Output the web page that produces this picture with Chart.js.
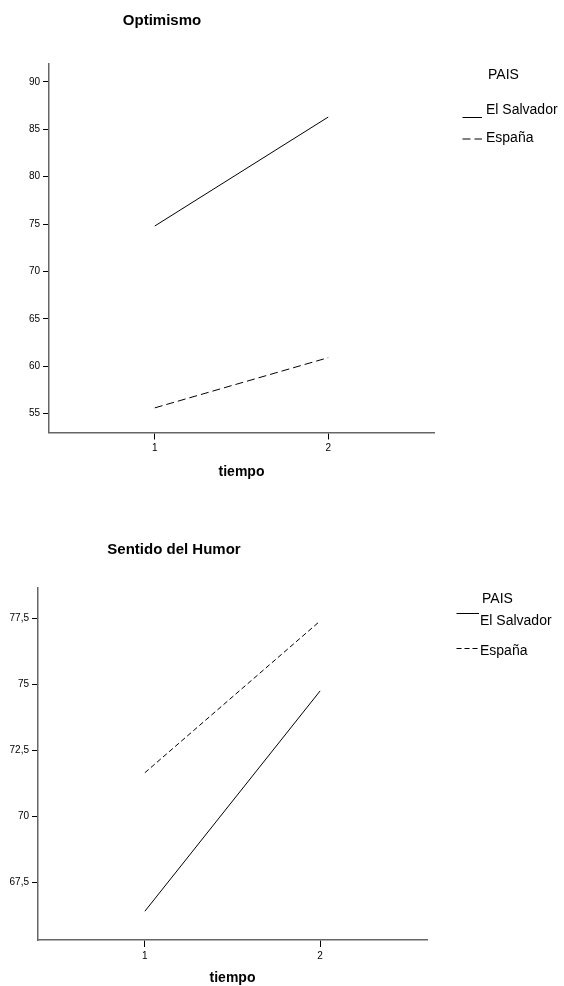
<!DOCTYPE html>
<html>
<head>
<meta charset="utf-8">
<script src="https://cdn.jsdelivr.net/npm/chart.js"></script>
<style>
  body { margin: 0; background: #fff; }
  .chart-box { position: relative; width: 564px; height: 493px; }
</style>
</head>
<body>
<div class="chart-box"><canvas id="chartOptimismo"></canvas></div>
<div class="chart-box"><canvas id="chartHumor"></canvas></div>
<script>
const tiempos = [1, 2];
const paises = ['El Salvador', 'España'];
const optimismoSalvador = [74.8, 86.3];
const optimismoEspana = [55.6, 60.9];
const humorSalvador = [66.4, 74.75];
const humorEspana = [71.65, 77.4];
const ticksOptimismo = [55, 60, 65, 70, 75, 80, 85, 90];
const ticksHumor = [67.5, 70, 72.5, 75, 77.5];

const fuente = "'Liberation Sans', Arial, sans-serif";
Chart.defaults.font.family = fuente;
Chart.defaults.color = '#000';

// titulo + leyenda "PAIS" colocados a mano, como en el grafico original
const textosPlugin = {
  id: 'textos',
  afterDraw(chart, args, opts) {
    const ctx = chart.ctx;
    ctx.save();
    ctx.fillStyle = '#000';
    ctx.textBaseline = 'alphabetic';
    ctx.textAlign = 'center';
    ctx.font = 'bold 15px ' + fuente;
    ctx.fillText(opts.titulo, opts.tituloX, opts.tituloY);

    ctx.textAlign = 'left';
    ctx.font = '14px ' + fuente;
    ctx.fillText('PAIS', opts.paisX, opts.paisY);
    chart.data.datasets.forEach((ds, i) => {
      ctx.fillText(ds.label, opts.textoX, opts.filasY[i]);
      ctx.beginPath();
      ctx.setLineDash(ds.borderDash || []);
      ctx.lineWidth = 1;
      ctx.strokeStyle = '#000';
      ctx.moveTo(opts.muestraX[0], opts.muestraY[i]);
      ctx.lineTo(opts.muestraX[1], opts.muestraY[i]);
      ctx.stroke();
    });
    ctx.restore();
  }
};

function puntos(valores) {
  return tiempos.map((t, i) => ({ x: t, y: valores[i] }));
}

function crearConfig(salvador, espana, yMin, yMax, yTicks, anchoY, altoX, padding, dash, textos) {
  return {
    type: 'line',
    data: {
      datasets: [{
        label: paises[0],
        data: puntos(salvador),
        borderColor: '#000',
        borderWidth: 1,
        pointRadius: 0,
        fill: false
      }, {
        label: paises[1],
        data: puntos(espana),
        borderColor: '#000',
        borderWidth: 1,
        borderDash: dash,
        pointRadius: 0,
        fill: false
      }]
    },
    options: {
      responsive: true,
      maintainAspectRatio: false,
      animation: false,
      layout: { padding: padding },
      plugins: {
        legend: { display: false },
        tooltip: { enabled: false },
        textos: textos
      },
      scales: {
        x: {
          type: 'linear',
          min: 0.39,
          max: 2.61,
          afterBuildTicks: s => { s.ticks = tiempos.map(v => ({ value: v })); },
          afterFit: s => { s.height = altoX; },
          grid: { drawOnChartArea: false, tickLength: 7, color: '#000', lineWidth: 1 },
          border: { color: '#666', width: 1.5 },
          ticks: { font: { size: 10 }, padding: 3, maxRotation: 0 },
          title: {
            display: true,
            text: 'tiempo',
            padding: 0,
            font: { size: 14, weight: 'bold', lineHeight: 1 }
          }
        },
        y: {
          min: yMin,
          max: yMax,
          afterBuildTicks: s => { s.ticks = yTicks.map(v => ({ value: v })); },
          afterFit: s => { s.width = anchoY; },
          grid: { drawOnChartArea: false, tickLength: 6, color: '#000', lineWidth: 1 },
          border: { color: '#666', width: 1.5 },
          ticks: {
            font: { size: 10 },
            padding: 3,
            callback: v => String(v).replace('.', ',')
          }
        }
      }
    },
    plugins: [textosPlugin]
  };
}

const configOptimismo = crearConfig(
  optimismoSalvador, optimismoEspana, 53.0, 91.9, ticksOptimismo,
  49, 46.5, { left: 0, top: 64, right: 130, bottom: 14 }, [8, 4],
  {
    titulo: 'Optimismo', tituloX: 162, tituloY: 25,
    paisX: 488, paisY: 79,
    textoX: 486, filasY: [114, 142],
    muestraX: [462.5, 482], muestraY: [117.5, 139]
  }
);

const myChartOptimismo = new Chart(
  document.getElementById('chartOptimismo'),
  configOptimismo
);

const configHumor = crearConfig(
  humorSalvador, humorEspana, 65.31, 78.65, ticksHumor,
  38, 45, { left: 0, top: 95, right: 137, bottom: 1 }, [5, 3],
  {
    titulo: 'Sentido del Humor', tituloX: 174, tituloY: 61,
    paisX: 482, paisY: 110,
    textoX: 480, filasY: [132, 162],
    muestraX: [456.5, 479], muestraY: [120.5, 155.5]
  }
);

const myChartHumor = new Chart(
  document.getElementById('chartHumor'),
  configHumor
);
</script>
</body>
</html>
